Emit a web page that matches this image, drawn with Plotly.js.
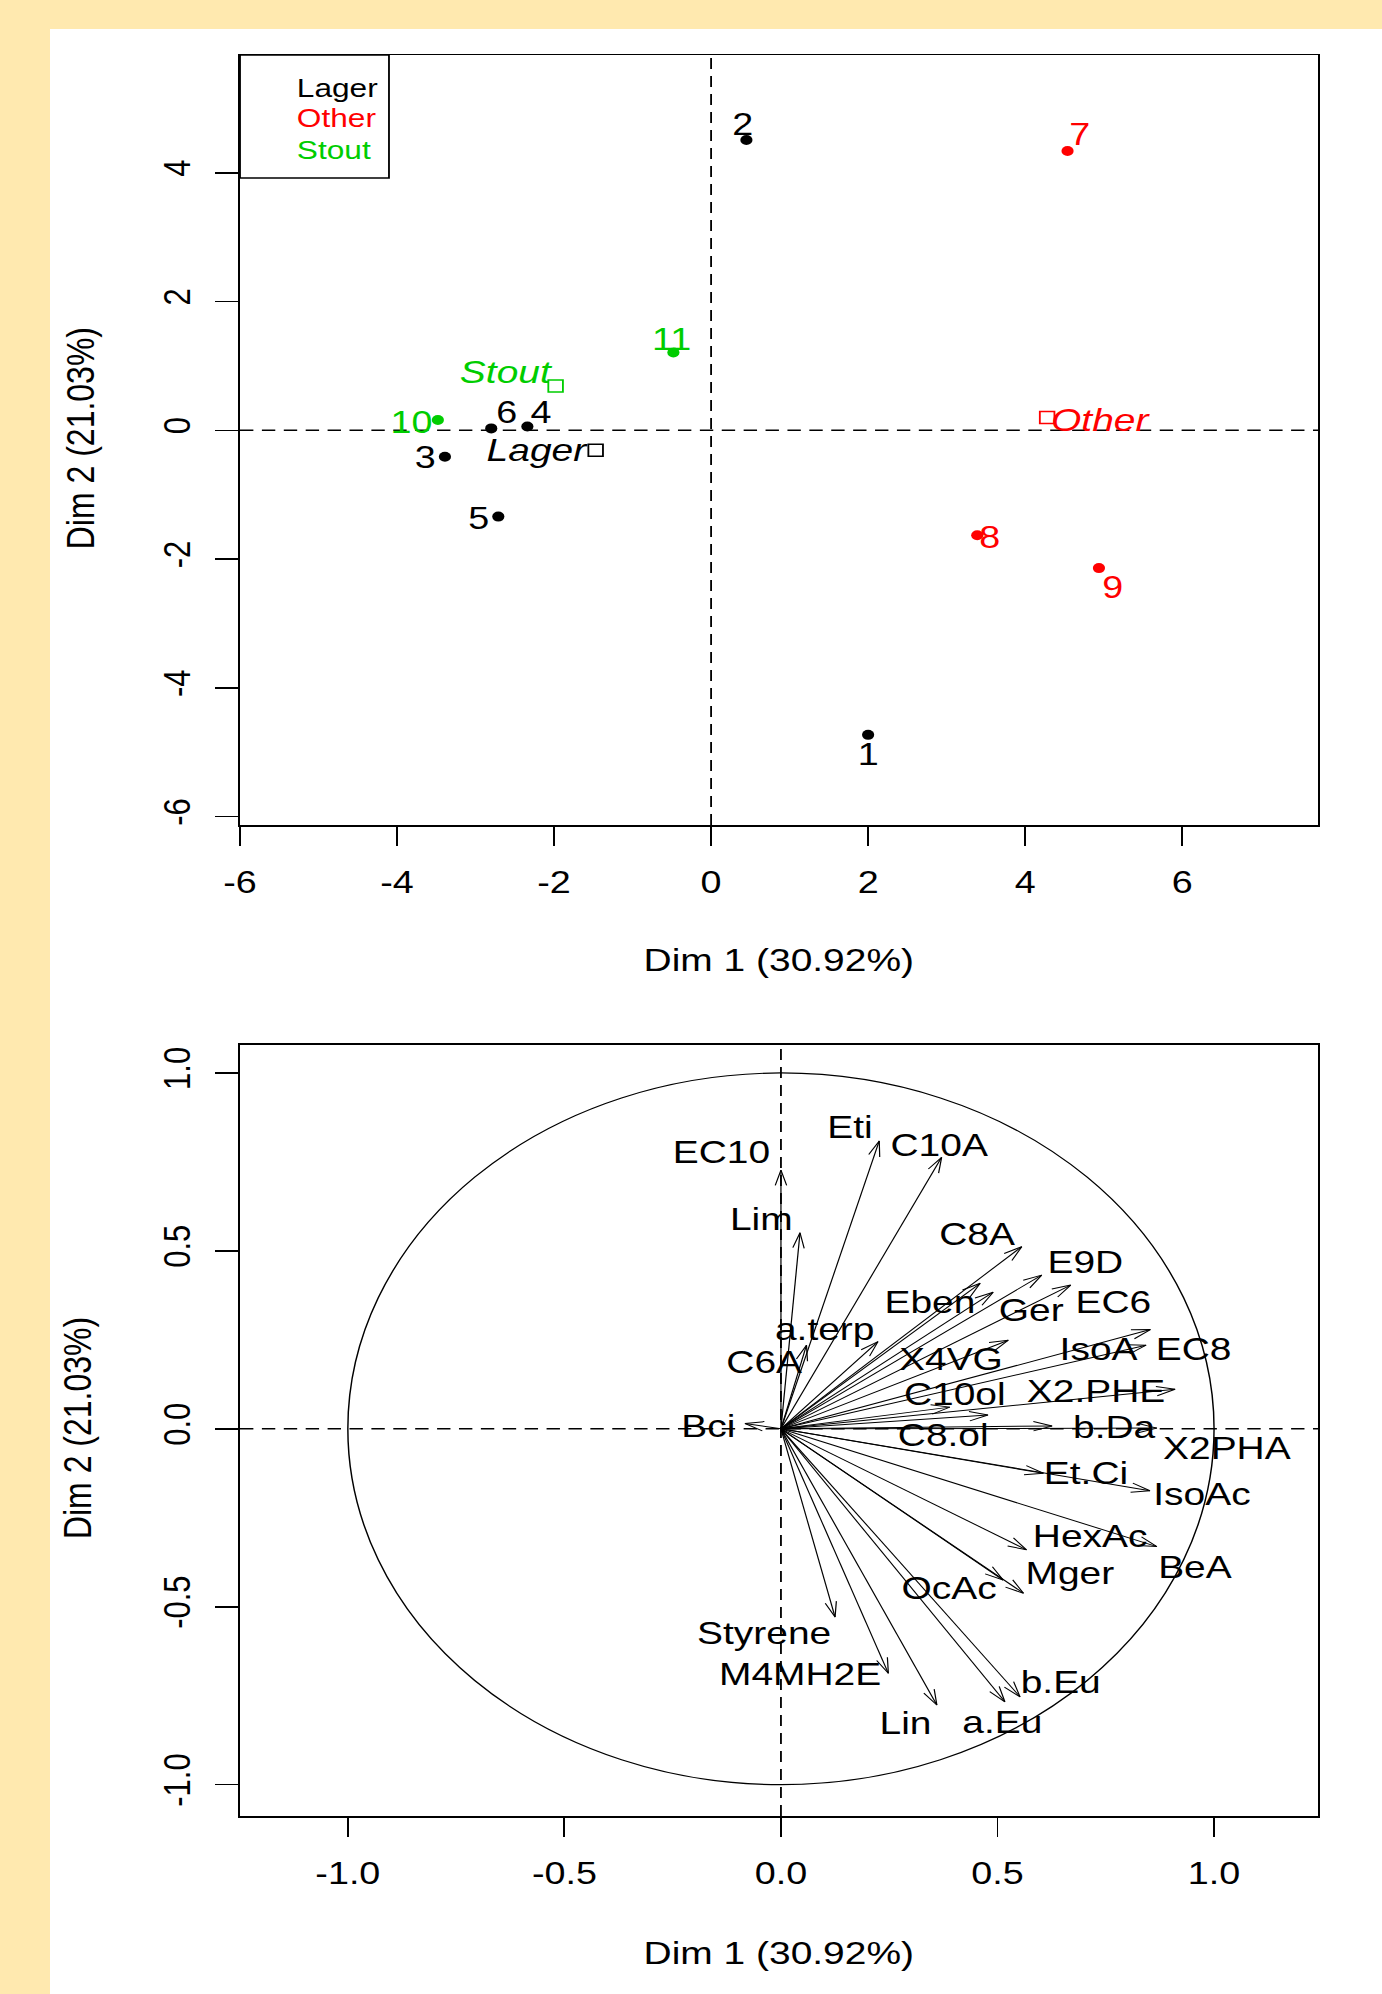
<!DOCTYPE html>
<html><head><meta charset="utf-8">
<script src="https://cdn.plot.ly/plotly-3.0.1.min.js"></script>
<style>
html,body{margin:0;padding:0;background:#FFE9AF;overflow:hidden;}
#wrap{width:1136px;height:1994px;transform:scaleX(1.216549);transform-origin:0 0;}
#chart{width:1136px;height:1994px;}
</style></head><body>
<div id="wrap"><div id="chart"></div></div>
<script>
// ---------------- data ----------------
const indNames = ['1','2','3','4','5','6','7','8','9','10','11'];
const indGroup = ['Lager','Lager','Lager','Lager','Lager','Lager','Other','Other','Other','Stout','Stout'];
const indDim1 = [2.00, 0.45, -3.39, -2.34, -2.71, -2.80, 4.54, 3.39, 4.94, -3.48, -0.48];
const indDim2 = [-4.73, 4.51, -0.41, 0.06, -1.34, 0.03, 4.34, -1.63, -2.14, 0.16, 1.21];

const groups = ['Lager','Other','Stout'];
const groupDim1 = [-1.47, 4.28, -1.98];
const groupDim2 = [-0.31, 0.20, 0.69];

const varNames = ['EC10','Lim','Eti','C10A','C8A','E9D','EC6','Eben','Ger','a.terp','C6A','X4VG',
  'IsoA','EC8','X2.PHE','C10ol','Bci','C8.ol','b.Da','X2PHA','Et.Ci','IsoAc','HexAc','BeA',
  'Mger','OcAc','Styrene','M4MH2E','Lin','a.Eu','b.Eu'];
const varDim1 = [0.00, 0.044, 0.227, 0.371, 0.556, 0.602, 0.669, 0.460, 0.490, 0.224, 0.059, 0.525,
  0.843, 0.853, 0.910, 0.390, -0.083, 0.478, 0.626, 0.868, 0.606, 0.852, 0.567, 0.868,
  0.560, 0.513, 0.125, 0.248, 0.360, 0.517, 0.552];
const varDim2 = [0.727, 0.551, 0.809, 0.763, 0.512, 0.432, 0.404, 0.409, 0.384, 0.245, 0.235, 0.249,
  0.235, 0.279, 0.111, 0.061, 0.015, 0.039, 0.008, 0.002, -0.125, -0.174, -0.340, -0.331,
  -0.462, -0.425, -0.529, -0.687, -0.776, -0.767, -0.753];

const indXTicks = [-6,-4,-2,0,2,4,6];
const indXTickText = ['-6','-4','-2','0','2','4','6'];
const indYTicks = [-6,-4,-2,0,2,4];
const indYTickText = ['-6','-4','-2','0','2','4'];
const varTicks = [-1,-0.5,0,0.5,1];
const varTickText = ['-1.0','-0.5','0.0','0.5','1.0'];

const dim1Title = 'Dim 1 (30.92%)';
const dim2Title = 'Dim 2 (21.03%)';

// ---------------- styles ----------------
const S = 1382/1136;            // horizontal stretch of the whole picture
const FONT = 'Liberation Sans, Arial, sans-serif';
const groupColors = {Lager:'#000000', Other:'#FF0000', Stout:'#00CD00'};
// label offsets in reference pixels [dx, dy(down)]
const indLabelOffset = {'1':[0,20],'2':[-4,-15],'3':[-20,1],'4':[14,-14],'5':[-20,2],'6':[15,-16],
  '7':[12,-16],'8':[13,2],'9':[14,19],'10':[-27,2],'11':[-2,-13]};
const groupLabelOffset = {Lager:[-58,0], Other:[53,3], Stout:[-49,-14]};
const varLabelOffset = {'EC10':[-59,-18.5],'Lim':[-39,-14],'Eti':[-30,-14],'C10A':[-2,-12],'C8A':[-44,-13],
  'E9D':[43,-13.5],'EC6':[42,16.5],'Eben':[-50,18.5],'Ger':[38,18],'a.terp':[-53.5,-13],'C6A':[-42,16.5],
  'X4VG':[-58,18.5],'IsoA':[-47,3.5],'EC8':[43,19],'X2.PHE':[-78.5,2],'C10ol':[5,-13.5],'Bci':[-37.5,3],
  'C8.ol':[-45,20.5],'b.Da':[62,1.5],'X2PHA':[70.5,19.5],'Et.Ci':[42,0],'IsoAc':[51.5,3],'HexAc':[63,-13.5],
  'BeA':[38,20],'Mger':[47,-20],'OcAc':[-54,7.5],'Styrene':[-71.5,16],'M4MH2E':[-89,1],'Lin':[-31,18.5],
  'a.Eu':[-2.5,20],'b.Eu':[41,-15]};
const HEAD_LEN = 0.045, HEAD_ANG = 17*Math.PI/180;
const DASH = '11px,7px';

// ---------------- traces ----------------
const traces = [];
groups.forEach(g => {
  const idx = indNames.map((n,i)=>i).filter(i => indGroup[i] === g);
  traces.push({type:'scatter', mode:'markers', xaxis:'x', yaxis:'y',
    x: idx.map(i=>indDim1[i]), y: idx.map(i=>indDim2[i]),
    marker:{color:groupColors[g], size:10}, hoverinfo:'skip', showlegend:false});
});
traces.push({type:'scatter', mode:'markers', xaxis:'x', yaxis:'y', x:groupDim1, y:groupDim2,
  marker:{symbol:'square-open', size:12, color:groups.map(g=>groupColors[g]),
    line:{width:1.5, color:groups.map(g=>groupColors[g])}}, hoverinfo:'skip', showlegend:false});

const arX = [], arY = [];
varNames.forEach((n,i) => {
  const x = varDim1[i], y = varDim2[i];
  const r = Math.hypot(x,y), ux = x/r, uy = y/r;
  arX.push(0, x, null); arY.push(0, y, null);
  const h = [1,-1].map(sg => {
    const a = sg*HEAD_ANG;
    return [x - HEAD_LEN*(ux*Math.cos(a) - uy*Math.sin(a)), y - HEAD_LEN*(ux*Math.sin(a) + uy*Math.cos(a))];
  });
  arX.push(h[0][0], x, h[1][0], null); arY.push(h[0][1], y, h[1][1], null);
});
traces.push({type:'scatter', mode:'lines', xaxis:'x2', yaxis:'y2', x:arX, y:arY,
  line:{color:'#000000', width:1}, hoverinfo:'skip', showlegend:false});

// ---------------- annotations ----------------
const ann = [];
indNames.forEach((n,i) => {
  const o = indLabelOffset[n];
  ann.push({xref:'x', yref:'y', x:indDim1[i], y:indDim2[i], text:n, showarrow:false,
    xanchor:'center', yanchor:'middle', xshift:o[0]/S, yshift:-o[1],
    font:{family:FONT, size:31, color:groupColors[indGroup[i]]}});
});
groups.forEach((g,i) => {
  const o = groupLabelOffset[g];
  ann.push({xref:'x', yref:'y', x:groupDim1[i], y:groupDim2[i], text:'<i>'+g+'</i>', showarrow:false,
    xanchor:'center', yanchor:'middle', xshift:o[0]/S, yshift:-o[1],
    font:{family:FONT, size:32, color:groupColors[g]}});
});
const legY = [0.957, 0.918, 0.877];
groups.forEach((g,i) => {
  ann.push({xref:'x domain', yref:'y domain', x:0.05, y:legY[i], text:g, showarrow:false,
    xanchor:'left', yanchor:'middle', font:{family:FONT, size:26, color:groupColors[g]}});
});
varNames.forEach((n,i) => {
  const o = varLabelOffset[n];
  ann.push({xref:'x2', yref:'y2', x:varDim1[i], y:varDim2[i], text:n, showarrow:false,
    xanchor:'center', yanchor:'middle', xshift:o[0]/S, yshift:-o[1],
    font:{family:FONT, size:32, color:'#000000'}});
});
const titleFont = {family:FONT, size:32, color:'#000000'};
ann.push({xref:'paper', yref:'paper', x:0.5637, y:1-960/1994, text:dim1Title, showarrow:false, xanchor:'center', yanchor:'middle', font:titleFont});
ann.push({xref:'paper', yref:'paper', x:0.5637, y:1-1953/1994, text:dim1Title, showarrow:false, xanchor:'center', yanchor:'middle', font:titleFont});
ann.push({xref:'paper', yref:'paper', x:80/1382, y:1-438.5/1994, text:dim2Title, showarrow:false, textangle:-90, xanchor:'center', yanchor:'middle', font:titleFont});
ann.push({xref:'paper', yref:'paper', x:78/1382, y:1-1428/1994, text:dim2Title, showarrow:false, textangle:-90, xanchor:'center', yanchor:'middle', font:titleFont});

// ---------------- shapes ----------------
const shapes = [
  {type:'rect', xref:'paper', yref:'paper', x0:50/1382, x1:1, y0:0, y1:1-29/1994, fillcolor:'#FFFFFF', line:{width:0}, layer:'below'},
  {type:'line', xref:'x domain', yref:'y', x0:0, x1:1, y0:0, y1:0, line:{color:'#000000', width:1.5, dash:DASH}},
  {type:'line', xref:'x', yref:'y domain', x0:0, x1:0, y0:0, y1:1, line:{color:'#000000', width:1.5, dash:DASH}},
  {type:'rect', xref:'x domain', yref:'y domain', x0:0, x1:0.1382, y0:0.8403, y1:1, line:{color:'#000000', width:1.5}},
  {type:'line', xref:'x2 domain', yref:'y2', x0:0, x1:1, y0:0, y1:0, line:{color:'#000000', width:1.5, dash:DASH}},
  {type:'line', xref:'x2', yref:'y2 domain', x0:0, x1:0, y0:0, y1:1, line:{color:'#000000', width:1.5, dash:DASH}},
  {type:'circle', xref:'x2', yref:'y2', x0:-1, x1:1, y0:-1, y1:1, line:{color:'#000000', width:1.2}}
];

// ---------------- layout ----------------
const tickFont = {family:FONT, size:31, color:'#000000'};
function axis(extra){
  return Object.assign({showgrid:false, zeroline:false, showline:true, mirror:true, linecolor:'#000000', linewidth:1.5,
    ticks:'outside', ticklen:19, tickwidth:1.5, tickcolor:'#000000', tickfont:tickFont, fixedrange:true}, extra);
}
const xd = [240/1382, 1318/1382];
const layout = {
  width:1136, height:1994, autosize:false,
  margin:{l:0, r:0, t:0, b:0},
  paper_bgcolor:'#FFE9AF', plot_bgcolor:'#FFFFFF',
  showlegend:false,
  xaxis: axis({domain:xd, anchor:'y', range:[-6.0, 7.73], tickmode:'array', tickvals:indXTicks, ticktext:indXTickText, ticklabelstandoff:10}),
  yaxis: axis({domain:[1-825/1994, 1-55/1994], anchor:'x', range:[-6.13, 5.83], tickmode:'array', tickvals:indYTicks, ticktext:indYTickText, tickangle:-90, ticklabelstandoff:8}),
  xaxis2: axis({domain:xd, anchor:'y2', range:[-1.249, 1.240], tickmode:'array', tickvals:varTicks, ticktext:varTickText, ticklabelstandoff:10}),
  yaxis2: axis({domain:[1-1816/1994, 1-1044.5/1994], anchor:'x2', range:[-1.088, 1.080], tickmode:'array', tickvals:varTicks, ticktext:varTickText, tickangle:-90, ticklabelstandoff:8}),
  annotations: ann,
  shapes: shapes
};
Plotly.newPlot('chart', traces, layout, {staticPlot:true, displayModeBar:false});
</script>
</body></html>
